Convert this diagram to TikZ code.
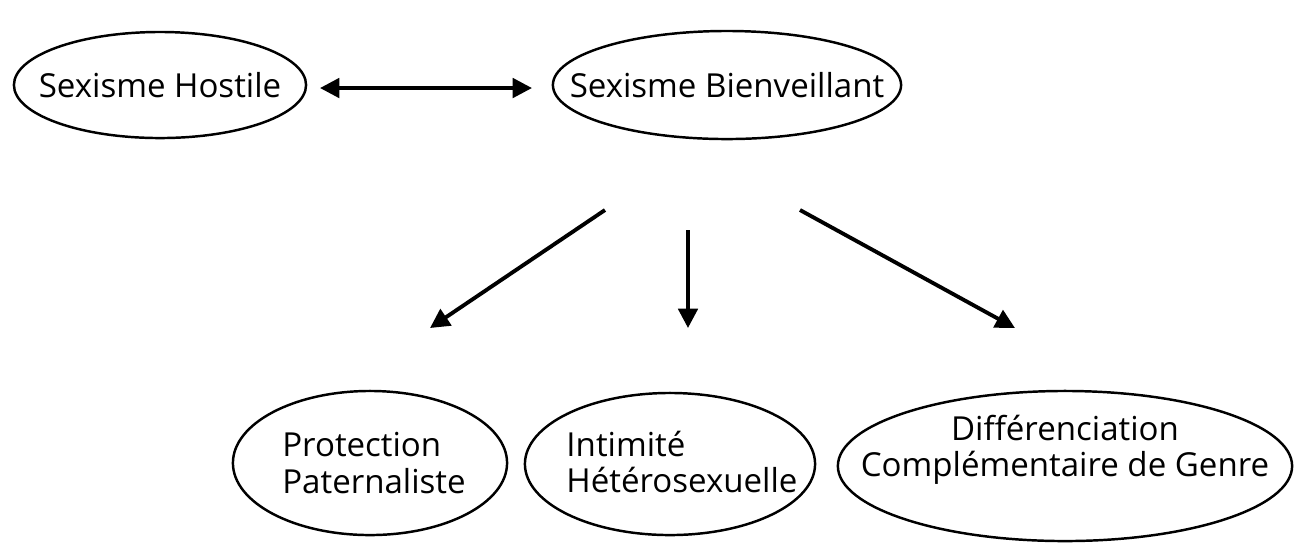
\documentclass[tikz,border=0pt]{standalone}
\usepackage{fontspec}
\setmainfont{Open Sans}
\usetikzlibrary{arrows.meta}

\begin{document}
\begin{tikzpicture}[x=0.01cm,y=-0.01cm,every node/.style = {align=left, inner sep=0pt, font=\fontsize{9.4}{10.3}\selectfont},oval/.style={line width=0.7pt},arr/.style={line width=1.1pt,-{Triangle[length=5.5pt,width=5.5pt]}}]
\useasboundingbox (0,0) rectangle (1299,544);
\node (hostile) at (160,85) {Sexisme Hostile};
\node (bienv) at (727,85) {Sexisme Bienveillant};
\node (protect) at (374,463) {Protection\\Paternaliste};
\node (intim) at (682,462) {Intimité\\Hétérosexuelle};
\node[align=center] (diff) at (1065,450) {Différenciation\\Complémentaire de Genre};
% ovales
\draw[oval] (160,85) ellipse [x radius=1.46cm, y radius=0.53cm];
\draw[oval] (727,85) ellipse [x radius=1.74cm, y radius=0.54cm];
\draw[oval] (370,463) ellipse [x radius=1.37cm, y radius=0.72cm];
\draw[oval] (670,464) ellipse [x radius=1.45cm, y radius=0.71cm];
\draw[oval] (1065,466) ellipse [x radius=2.27cm, y radius=0.75cm];
\coordinate (dl) at (320,88);
\coordinate (dr) at (532,88);
\coordinate (from1) at (605,210);
\coordinate (from2) at (688,230);
\coordinate (from3) at (800,210);
\coordinate (to1) at (430,328);
\coordinate (to2) at (688,328);
\coordinate (to3) at (1015,328);
\draw[arr,{Triangle[length=5.5pt,width=5.5pt]}-{Triangle[length=5.5pt,width=5.5pt]}] (dl) -- (dr);
\draw[arr] (from1) -- (to1);
\draw[arr] (from2) -- (to2);
\draw[arr] (from3) -- (to3);
\end{tikzpicture}
\end{document}
